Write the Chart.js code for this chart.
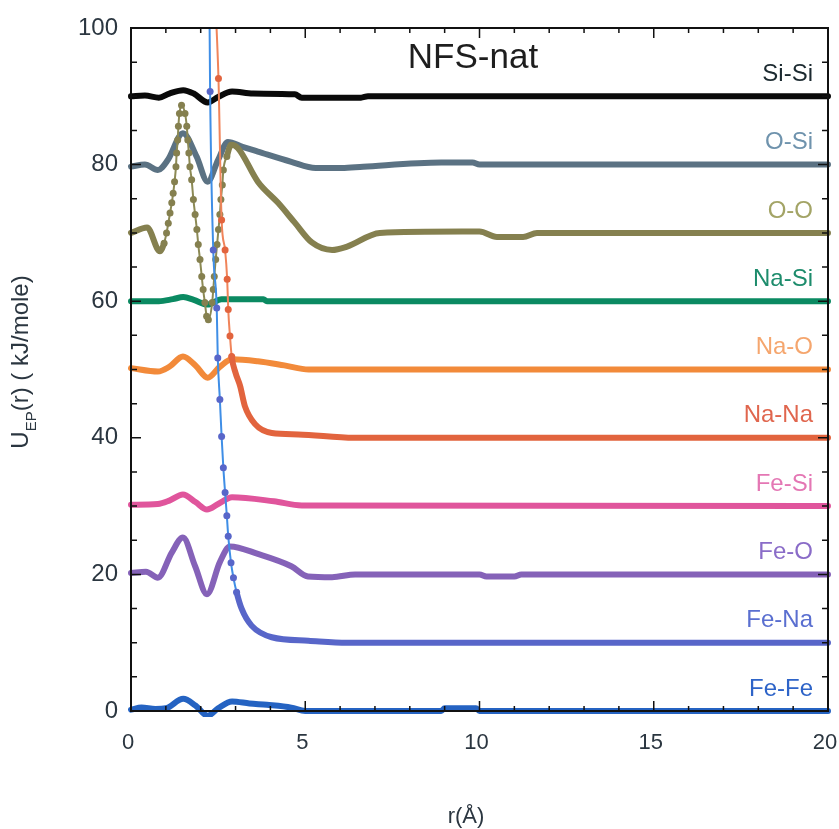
<!DOCTYPE html>
<html>
<head>
<meta charset="utf-8">
<script src="https://cdn.jsdelivr.net/npm/chart.js@4.4.1/dist/chart.umd.min.js"></script>
<style>
  html, body { margin: 0; padding: 0; background: #fff; }
  #wrap { width: 839px; height: 829px; }
</style>
</head>
<body>
<div id="wrap"><canvas id="chart" width="839" height="829"></canvas></div>
<script>
// ================= DATA =================
// r in Angstrom, U_EP(r) in kJ/mole; each pair curve is shifted up by 10
const xTicks = [0, 5, 10, 15, 20];
const yTicks = [0, 20, 40, 60, 80, 100];

const siSiX = [0, 0.4, 0.8, 1.1, 1.5, 1.8, 2.2, 2.5, 2.9, 3.5, 4.7, 4.9, 6.6, 6.8, 20];
const siSiY = [90, 90.1, 89.8, 90.4, 90.9, 90.4, 89.1, 89.9, 90.7, 90.4, 90.3, 89.8, 89.8, 90, 90];

const oSiX = [0, 0.4, 0.77, 1.06, 1.49, 1.88, 2.2, 2.5, 2.78, 3.2, 3.64, 4.6, 5.3, 6.05, 6.66, 8.9, 9.8, 10, 20];
const oSiY = [79.7, 80.0, 79.2, 80.7, 84.6, 81.2, 77.5, 80.7, 83.3, 82.6, 81.9, 80.4, 79.5, 79.5, 79.7, 80.3, 80.3, 80, 80];

const oOX = [0, 0.46, 0.83, 0.95, 1.02, 1.07, 1.12, 1.17, 1.21, 1.25, 1.29, 1.31, 1.34, 1.36, 1.39, 1.45,
  1.55, 1.6, 1.63, 1.66, 1.69, 1.74, 1.79, 1.84, 1.89, 1.93, 1.98, 2.03, 2.07, 2.12, 2.17, 2.22,
  2.33, 2.36, 2.39, 2.43, 2.47, 2.51, 2.55, 2.58, 2.62, 2.65, 2.75, 2.87, 3.07, 3.64, 4.22, 4.7,
  5.19, 5.77, 6.2, 7.14, 9.5, 10.0, 10.5, 11.25, 11.65, 20];
const oOY = [70.0, 70.8, 67.3, 68.5, 70.0, 71.4, 72.9, 74.4, 75.8, 77.5, 79.7, 81.7, 83.6, 85.6, 87.5, 88.7,
  87.5, 85.6, 83.6, 81.7, 79.7, 77.8, 74.9, 72.7, 70.5, 68.3, 66.1, 63.6, 61.7, 59.8, 57.8, 57.3,
  59.8, 61.7, 63.6, 66.1, 68.3, 70.5, 72.7, 74.9, 77.0, 79.2, 81.2, 82.9, 82.4, 77.5, 74.4, 71.5,
  68.6, 67.5, 68.0, 70.0, 70.2, 70.2, 69.4, 69.4, 70.0, 70.0];

const naSiX = [0, 0.8, 1.2, 1.5, 1.8, 2.2, 2.6, 3.8, 3.9, 20];
const naSiY = [60, 60, 60.3, 60.6, 60.2, 59.5, 60.3, 60.3, 60, 60];

const naOX = [0, 0.77, 1.1, 1.49, 1.85, 2.2, 2.55, 2.9, 3.64, 4.4, 5.1, 20];
const naOY = [50.2, 49.7, 50.4, 51.9, 50.6, 48.8, 50.4, 51.5, 51.2, 50.6, 50.0, 50.0];

const naNaX = [2.42, 2.51, 2.60, 2.70, 2.76, 2.79, 2.84, 2.89, 3.0, 3.13, 3.27, 3.56, 4.04, 4.8, 6.4, 20];
const naNaY = [104, 92.6, 71.9, 67.5, 63.2, 58.8, 54.9, 51.9, 49.5, 47.6, 44.6, 42.0, 40.7, 40.5, 40.0, 40.0];

const feSiX = [0, 0.77, 1.1, 1.49, 1.85, 2.18, 2.5, 2.9, 4.1, 4.9, 20];
const feSiY = [30.2, 30.3, 30.8, 31.7, 30.6, 29.5, 30.3, 31.3, 30.7, 30.1, 30];

const feOX = [0, 0.43, 0.77, 1.17, 1.49, 1.84, 2.18, 2.55, 2.84, 3.64, 4.6, 5.08, 5.77, 6.43, 10.0, 10.2, 11.0, 11.2, 20];
const feOY = [20.2, 20.4, 19.5, 23.2, 25.4, 21.2, 17.1, 21.8, 24.1, 23.0, 21.2, 19.7, 19.6, 20.0, 20.0, 19.7, 19.7, 20, 20];

const feNaX = [2.25, 2.27, 2.36, 2.46, 2.49, 2.55, 2.60, 2.65, 2.70, 2.75, 2.79, 2.87, 2.94, 3.03, 3.18, 3.46, 4.04, 5.09, 6.2, 20];
const feNaY = [104, 90.7, 67.5, 59.0, 51.7, 45.6, 40.2, 35.6, 32.0, 28.6, 25.6, 21.7, 19.5, 17.4, 14.9, 12.5, 10.8, 10.3, 10.0, 10.0];

const feFeX = [0, 0.3, 0.7, 1.0, 1.5, 1.85, 2.2, 2.5, 2.9, 3.4, 3.9, 4.6, 5.0, 8.9, 9.0, 9.9, 10.0, 20];
const feFeY = [0.2, 0.5, 0.3, 0.4, 1.8, 0.8, -0.7, 0.4, 1.4, 1.1, 0.9, 0.5, 0, 0, 0.4, 0.4, 0, 0];

const pairNames = ["Si-Si", "O-Si", "O-O", "Na-Si", "Na-O", "Na-Na", "Fe-Si", "Fe-O", "Fe-Na", "Fe-Fe"];
const pairOffsets = [90, 80, 70, 60, 50, 40, 30, 20, 10, 0];

// ================= STYLE =================
const lineColors = ["#0a0a0a", "#5b7283", "#85804f", "#0b8a62", "#f28a3a", "#e2643e", "#e0559c", "#8562b8", "#5866c9", "#2563c2"];
const labelColors = ["#1c2a30", "#6f93ad", "#a3a466", "#1d8c6c", "#f5a66e", "#e0664e", "#e477b4", "#8a6cc8", "#5a6fd0", "#2e64c8"];
const FONT = "'Liberation Sans', Arial, Helvetica, sans-serif";

// one dataset per pair; inside the dotted r-range the line is thin and every sample gets a marker
function makeSet(i, xs, ys, opts = {}) {
  const color = lineColors[i];
  const [lo, hi] = opts.dotted || [Infinity, -Infinity];
  const inDots = v => v >= lo && v <= hi;
  return {
    label: pairNames[i],
    data: xs.map((v, k) => ({ x: v, y: ys[k] })),
    borderColor: color,
    backgroundColor: color,
    borderWidth: 6,
    pointRadius: c => (inDots(c.parsed.x) ? 3.5 : 0),
    pointHoverRadius: 0,
    pointBorderWidth: 0,
    pointBackgroundColor: color,
    cubicInterpolationMode: "monotone",
    borderJoinStyle: "round",
    borderCapStyle: "round",
    clip: { left: 4, top: 0, right: 4, bottom: 6 },
    order: opts.order ?? 10,
    segment: {
      borderWidth: c => (inDots(c.p0.parsed.x) && inDots(c.p1.parsed.x) ? 2 : 6),
      borderColor: c => (inDots(c.p0.parsed.x) && inDots(c.p1.parsed.x) && opts.thin ? opts.thin : color)
    }
  };
}

const datasets = [
  makeSet(0, siSiX, siSiY),
  makeSet(1, oSiX, oSiY),
  makeSet(2, oOX, oOY, { dotted: [0.9, 2.8], thin: "#8c8a55", order: 2 }),
  makeSet(3, naSiX, naSiY),
  makeSet(4, naOX, naOY),
  makeSet(5, naNaX, naNaY, { dotted: [2.4, 2.95], thin: "#f0845a", order: 1 }),
  makeSet(6, feSiX, feSiY),
  makeSet(7, feOX, feOY),
  makeSet(8, feNaX, feNaY, { dotted: [2.2, 3.05], thin: "#3f8ee6", order: 0 }),
  makeSet(9, feFeX, feFeY)
];

// ================= FRAME + INWARD TICKS =================
const frame = {
  id: "frame",
  afterDatasetsDraw(chart) {
    const { ctx, chartArea: a, scales: { x, y } } = chart;
    ctx.save();
    ctx.strokeStyle = "#111";
    ctx.lineWidth = 1.5;
    ctx.beginPath();
    for (let v = 0; v <= 20; v++) {
      const px = x.getPixelForValue(v);
      const len = v % 5 === 0 ? 10 : 5;
      ctx.moveTo(px, a.bottom); ctx.lineTo(px, a.bottom - len);
      ctx.moveTo(px, a.top); ctx.lineTo(px, a.top + len);
    }
    for (let v = 0; v <= 100; v += 5) {
      const py = y.getPixelForValue(v);
      const len = v % 20 === 0 ? 10 : 6;
      ctx.moveTo(a.left, py); ctx.lineTo(a.left + len, py);
      ctx.moveTo(a.right, py); ctx.lineTo(a.right - len, py);
    }
    ctx.stroke();
    ctx.lineWidth = 2;
    ctx.strokeRect(a.left, a.top, a.right - a.left, a.bottom - a.top);
    ctx.restore();
  }
};

// ================= TEXT =================
const texts = {
  id: "texts",
  afterDraw(chart) {
    const { ctx, scales: { y } } = chart;
    ctx.save();

    // panel title
    ctx.fillStyle = "#1e1e1e";
    ctx.font = "35px " + FONT;
    ctx.textAlign = "center";
    ctx.textBaseline = "middle";
    ctx.fillText("NFS-nat", 473, 58);

    // pair labels above each baseline
    ctx.font = "24px " + FONT;
    ctx.textAlign = "right";
    pairNames.forEach((name, i) => {
      ctx.fillStyle = labelColors[i];
      ctx.fillText(name, 813, y.getPixelForValue(pairOffsets[i]) - 22);
    });

    // x title
    ctx.fillStyle = "#2b3640";
    ctx.font = "22px " + FONT;
    ctx.textAlign = "center";
    ctx.fillText("r(Å)", 466, 817);

    // y title with subscript, rotated
    ctx.translate(28, 362);
    ctx.rotate(-Math.PI / 2);
    const big = "24px " + FONT, small = "15px " + FONT;
    ctx.font = big;
    const wU = ctx.measureText("U").width;
    const rest = "(r) ( kJ/mole)";
    const wR = ctx.measureText(rest).width;
    ctx.font = small;
    const wS = ctx.measureText("EP").width;
    let cx = -(wU + wS + wR) / 2;
    ctx.textAlign = "left";
    ctx.textBaseline = "alphabetic";
    ctx.font = big;
    ctx.fillText("U", cx, 0);
    cx += wU;
    ctx.font = small;
    ctx.fillText("EP", cx, 8);
    cx += wS;
    ctx.font = big;
    ctx.fillText(rest, cx, 0);
    ctx.restore();
  }
};

// ================= CHART =================
new Chart(document.getElementById("chart"), {
  type: "line",
  data: { datasets },
  options: {
    responsive: false,
    animation: false,
    devicePixelRatio: 1,
    layout: { padding: { top: 28, right: 11, left: 0, bottom: 0 } },
    plugins: { legend: { display: false }, tooltip: { enabled: false }, title: { display: false } },
    scales: {
      x: {
        type: "linear",
        min: 0,
        max: 20,
        afterFit: s => { s.height = 118; s.paddingLeft = 0; s.paddingRight = 0; },
        afterBuildTicks: s => { s.ticks = xTicks.map(v => ({ value: v })); },
        grid: { display: false, drawTicks: false },
        border: { display: false },
        ticks: { color: "#2b3640", font: { family: FONT, size: 22 }, padding: 19, maxRotation: 0, labelOffset: -3 }
      },
      y: {
        min: 0,
        max: 100,
        afterFit: s => { s.width = 131; s.paddingTop = 0; s.paddingBottom = 0; },
        afterBuildTicks: s => { s.ticks = yTicks.map(v => ({ value: v })); },
        grid: { display: false, drawTicks: false },
        border: { display: false },
        ticks: { color: "#2b3640", font: { family: FONT, size: 24 }, padding: 13 }
      }
    }
  },
  plugins: [frame, texts]
});
</script>
</body>
</html>
